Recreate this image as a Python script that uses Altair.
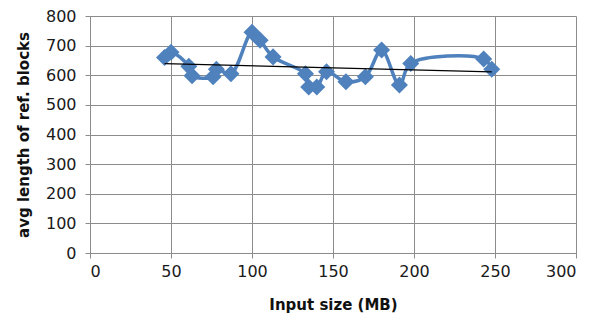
import altair as alt
import pandas as pd

input_mb = [46, 50, 61, 63, 76, 78, 87, 100, 105, 113, 133, 135, 140, 146, 158, 170, 180, 191, 198, 243, 248]
avg_len = [660, 678, 630, 598, 595, 620, 605, 745, 718, 662, 605, 560, 560, 612, 578, 595, 685, 567, 640, 655, 620]
x_ticks = [0, 50, 100, 150, 200, 250, 300]
y_ticks = [0, 100, 200, 300, 400, 500, 600, 700, 800]

df = pd.DataFrame({"x": input_mb, "y": avg_len})

FONT = "DejaVu Sans"
BLUE = "#4F81BD"

xenc = alt.X("x:Q", scale=alt.Scale(domain=[0, 300], nice=False),
             axis=alt.Axis(values=x_ticks, title="Input size (MB)"))
yenc = alt.Y("y:Q", scale=alt.Scale(domain=[0, 800], nice=False),
             axis=alt.Axis(values=y_ticks, title="avg length of ref. blocks"))

base = alt.Chart(df)
line = base.mark_line(color=BLUE, strokeWidth=3.5, interpolate="catmull-rom").encode(x=xenc, y=yenc, order="x:Q")
pts = base.mark_point(shape="diamond", filled=True, color=BLUE, size=290, opacity=1).encode(x=xenc, y=yenc)
trend = base.transform_regression("x", "y").mark_line(color="black", strokeWidth=1.2).encode(x=xenc, y=yenc)

chart = alt.layer(line, pts, trend).properties(
    width=486, height=237,
    autosize=alt.AutoSizeParams(type="none"),
    padding={"left": 82, "top": 8, "right": 9, "bottom": 62},
).configure_view(stroke=None).configure_axis(
    grid=True, gridColor="#8c8c8c", gridWidth=1,
    domainColor="#8c8c8c", tickColor="#8c8c8c", tickSize=5, domainWidth=1,
    labelFont=FONT, labelFontSize=16, labelColor="#1a1a1a", labelOverlap=False,
    titleFont=FONT, titleFontSize=15, titleFontWeight="bold", titleColor="#111111",
).configure_axisX(labelPadding=5, titlePadding=18).configure_axisY(labelPadding=9, titlePadding=14)

chart.save("out.html", embed_options={"renderer": "svg", "actions": False})
